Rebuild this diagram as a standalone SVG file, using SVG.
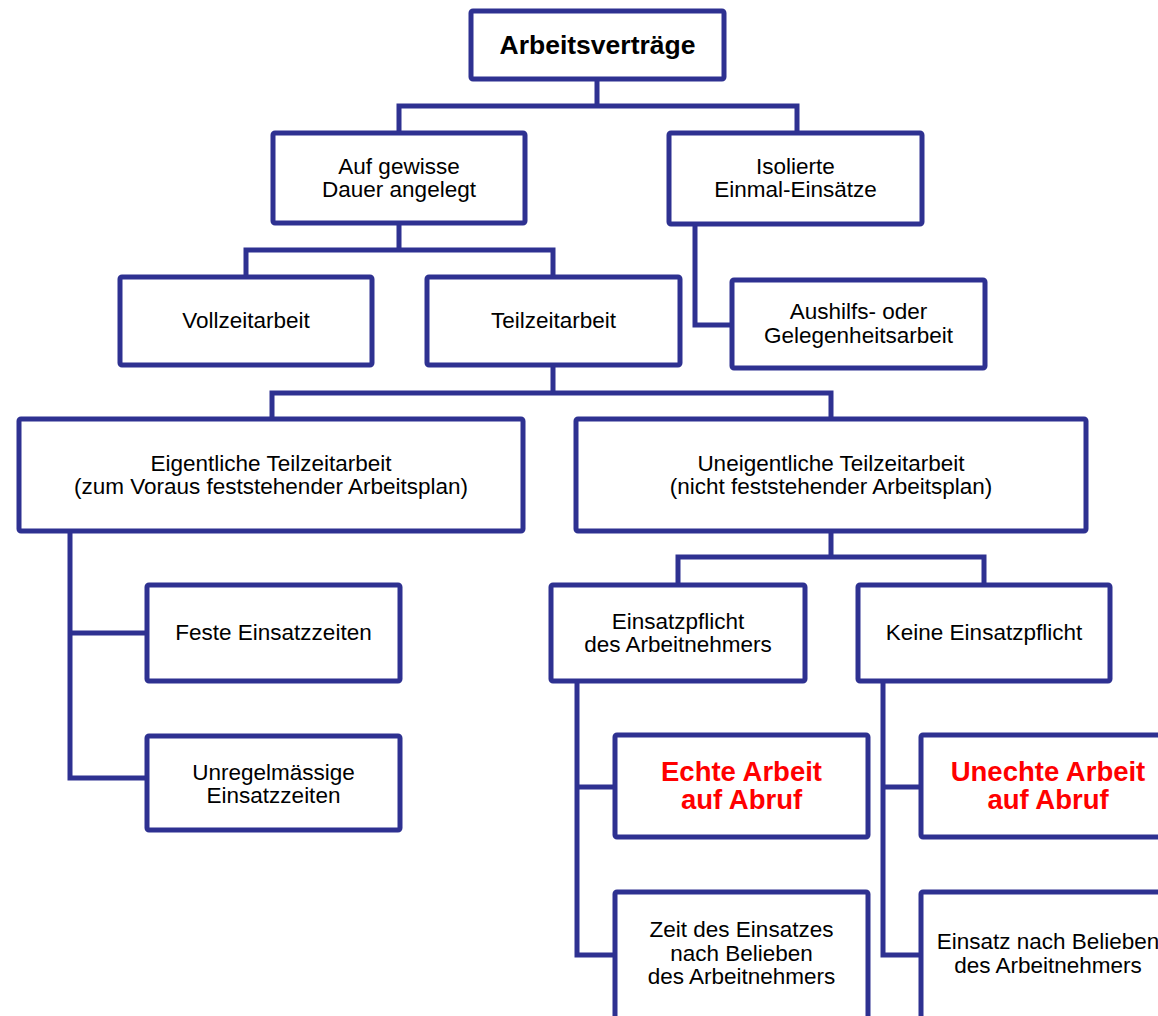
<svg xmlns="http://www.w3.org/2000/svg" width="1158" height="1016" viewBox="0 0 1158 1016">
<style>
.box{fill:#fff;stroke:#2e3191;stroke-width:5}
.con{fill:none;stroke:#2e3191;stroke-width:5;stroke-linejoin:miter}
text{font-family:"Liberation Sans",Arial,sans-serif;font-size:22.5px;fill:#000;text-anchor:middle}
.title{font-weight:bold;font-size:26.5px}
.red{font-weight:bold;font-size:27.5px;fill:#ff0000}
</style>
<rect width="1158" height="1016" fill="#fff"/>
<g id="connectors">
<path class="con" d="M597,79 V106 M399,133 V106 H797 V133"/>
<path class="con" d="M399,223 V250 M246,277 V250 H553 V277"/>
<path class="con" d="M695,224 V325 H732"/>
<path class="con" d="M553,365 V393 M272,419 V393 H831 V419"/>
<path class="con" d="M70,531 V778 H147 M70,633 H147"/>
<path class="con" d="M831,531 V557 M678,585 V557 H984 V585"/>
<path class="con" d="M577,681 V955 H615 M577,787 H615"/>
<path class="con" d="M883,681 V955 H921 M883,787 H921"/>
</g>
<g id="n-arbeitsvertraege"><rect class="box" x="471" y="11" width="253" height="68" rx="2"/><text class="title" x="597.5" y="54">Arbeitsverträge</text></g>
<g id="n-dauer"><rect class="box" x="273" y="133" width="252" height="90" rx="2"/><text x="399" y="174">Auf gewisse</text><text x="399" y="197">Dauer angelegt</text></g>
<g id="n-isoliert"><rect class="box" x="669" y="133" width="253" height="91" rx="2"/><text x="795.5" y="174">Isolierte</text><text x="795.5" y="197">Einmal-Einsätze</text></g>
<g id="n-vollzeit"><rect class="box" x="120" y="277" width="252" height="88" rx="2"/><text x="246" y="328">Vollzeitarbeit</text></g>
<g id="n-teilzeit"><rect class="box" x="427" y="277" width="253" height="88" rx="2"/><text x="553.5" y="328">Teilzeitarbeit</text></g>
<g id="n-aushilfs"><rect class="box" x="732" y="280" width="253" height="88" rx="2"/><text x="858.5" y="319">Aushilfs- oder</text><text x="858.5" y="343">Gelegenheitsarbeit</text></g>
<g id="n-eigentlich"><rect class="box" x="19" y="419" width="504" height="112" rx="2"/><text x="271" y="471">Eigentliche Teilzeitarbeit</text><text x="271" y="494">(zum Voraus feststehender Arbeitsplan)</text></g>
<g id="n-uneigentlich"><rect class="box" x="576" y="419" width="510" height="112" rx="2"/><text x="831" y="471">Uneigentliche Teilzeitarbeit</text><text x="831" y="494">(nicht feststehender Arbeitsplan)</text></g>
<g id="n-feste"><rect class="box" x="147" y="585" width="253" height="96" rx="2"/><text x="273.5" y="640">Feste Einsatzzeiten</text></g>
<g id="n-unregel"><rect class="box" x="147" y="736" width="253" height="94" rx="2"/><text x="273.5" y="780">Unregelmässige</text><text x="273.5" y="803">Einsatzzeiten</text></g>
<g id="n-einsatzpflicht"><rect class="box" x="551" y="585" width="254" height="96" rx="2"/><text x="678" y="629">Einsatzpflicht</text><text x="678" y="652">des Arbeitnehmers</text></g>
<g id="n-keine"><rect class="box" x="858" y="585" width="252" height="96" rx="2"/><text x="984" y="640">Keine Einsatzpflicht</text></g>
<g id="n-echte"><rect class="box" x="615" y="735" width="253" height="102" rx="2"/><text class="red" x="741.5" y="781">Echte Arbeit</text><text class="red" x="741.5" y="809">auf Abruf</text></g>
<g id="n-zeit"><rect class="box" x="615" y="892" width="253" height="140" rx="2"/><text x="741.5" y="937">Zeit des Einsatzes</text><text x="741.5" y="961">nach Belieben</text><text x="741.5" y="984">des Arbeitnehmers</text></g>
<g id="n-unechte"><rect class="box" x="921" y="735" width="254" height="102" rx="2"/><text class="red" x="1048" y="781">Unechte Arbeit</text><text class="red" x="1048" y="809">auf Abruf</text></g>
<g id="n-einsatz-belieben"><rect class="box" x="921" y="892" width="254" height="140" rx="2"/><text x="1048" y="949">Einsatz nach Belieben</text><text x="1048" y="973">des Arbeitnehmers</text></g>
</svg>
